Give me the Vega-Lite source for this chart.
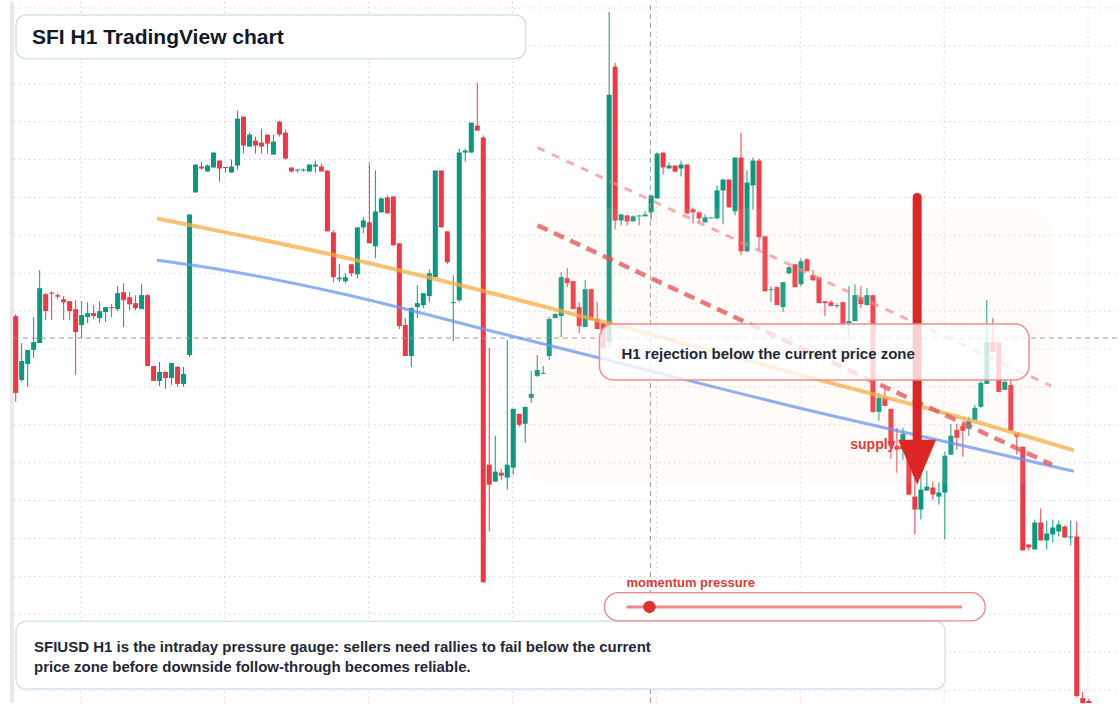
{
  "$schema": "https://vega.github.io/schema/vega-lite/v6.json",
  "width": 1120,
  "height": 704,
  "autosize": {"type": "fit", "contains": "padding"},
  "padding": 0,
  "background": "#ffffff",
  "config": {"view": {"stroke": null}, "scale": {"continuousPadding": 0}, "text": {"font": "Liberation Sans"}},
  "datasets": {
    "candles": [
      {"i":0,"o":388,"h":390,"l":302,"c":311},{"i":1,"o":324,"h":361,"l":322,"c":343},{"i":2,"o":340,"h":354,"l":317,"c":354},{"i":3,"o":354,"h":387,"l":346,"c":362},{"i":4,"o":361,"h":434,"l":361,"c":416},
      {"i":5,"o":410,"h":411,"l":384,"c":393},{"i":6,"o":411.5,"h":413,"l":384,"c":410.5},{"i":7,"o":409,"h":411,"l":405,"c":407.5},{"i":8,"o":405,"h":408,"l":384,"c":402},{"i":9,"o":403,"h":403,"l":384,"c":393},
      {"i":10,"o":395,"h":404,"l":329,"c":372},{"i":11,"o":379,"h":403,"l":366,"c":389},{"i":12,"o":387,"h":402,"l":381,"c":391},{"i":13,"o":391,"h":399,"l":385,"c":388},{"i":14,"o":386,"h":403,"l":381,"c":393},
      {"i":15,"o":392,"h":397,"l":382,"c":397},{"i":16,"o":397,"h":400,"l":387,"c":396},{"i":17,"o":395,"h":418,"l":393,"c":411},{"i":18,"o":412,"h":421,"l":377,"c":404},{"i":19,"o":407,"h":412,"l":394,"c":400},
      {"i":20,"o":401,"h":409,"l":394,"c":396},{"i":21,"o":395,"h":420,"l":395,"c":409},{"i":22,"o":409,"h":410,"l":338,"c":338},{"i":23,"o":338,"h":338,"l":323,"c":323},{"i":24,"o":323,"h":342,"l":318,"c":332},
      {"i":25,"o":332,"h":333,"l":315,"c":326},{"i":26,"o":326,"h":341,"l":319,"c":341},{"i":27,"o":337,"h":338,"l":317,"c":320},{"i":28,"o":320,"h":337,"l":317,"c":330},{"i":29,"o":349,"h":490,"l":347,"c":490},
      {"i":30,"o":512,"h":540,"l":512,"c":540},{"i":31,"o":538,"h":543,"l":535,"c":536},{"i":32,"o":533,"h":540,"l":533,"c":539},{"i":33,"o":537,"h":552,"l":537,"c":552},{"i":34,"o":544,"h":544,"l":523,"c":536},
      {"i":35,"o":537.5,"h":537.5,"l":532,"c":536.5},{"i":36,"o":532,"h":545,"l":532,"c":538},{"i":37,"o":539,"h":594,"l":535,"c":586},{"i":38,"o":588,"h":588,"l":551,"c":559},{"i":39,"o":558,"h":572,"l":558,"c":570},
      {"i":40,"o":564,"h":568,"l":551,"c":559},{"i":41,"o":562,"h":576,"l":551,"c":558},{"i":42,"o":570,"h":570,"l":551,"c":561},{"i":43,"o":550,"h":570,"l":550,"c":563},{"i":44,"o":583,"h":584,"l":568,"c":570},
      {"i":45,"o":572,"h":575,"l":545,"c":546},{"i":46,"o":537,"h":537,"l":532,"c":533},{"i":47,"o":534,"h":535,"l":532,"c":535},{"i":48,"o":534,"h":536,"l":533,"c":535},{"i":49,"o":533,"h":540,"l":533,"c":540},
      {"i":50,"o":538,"h":544,"l":532,"c":540},{"i":51,"o":538,"h":541,"l":533,"c":533},{"i":52,"o":534,"h":534,"l":473,"c":473},{"i":53,"o":472,"h":474,"l":422,"c":427},{"i":54,"o":425,"h":440,"l":422,"c":426.5},
      {"i":55,"o":423,"h":431,"l":421,"c":427},{"i":56,"o":440,"h":440,"l":428,"c":431},{"i":57,"o":430,"h":477,"l":426,"c":477},{"i":58,"o":477,"h":487,"l":471,"c":484},{"i":59,"o":482,"h":542,"l":461,"c":461},
      {"i":60,"o":458,"h":534,"l":446,"c":493},{"i":61,"o":492,"h":507,"l":492,"c":506},{"i":62,"o":507,"h":509,"l":491,"c":491},{"i":63,"o":508,"h":508,"l":459,"c":459},{"i":64,"o":461,"h":461,"l":375,"c":378},
      {"i":65,"o":379,"h":386,"l":348,"c":348},{"i":66,"o":348,"h":397,"l":337,"c":396},{"i":67,"o":397,"h":419,"l":386,"c":401},{"i":68,"o":399,"h":411,"l":396,"c":411},{"i":69,"o":408,"h":435,"l":402,"c":431},
      {"i":70,"o":427,"h":534,"l":427,"c":534},{"i":71,"o":534,"h":534,"l":477,"c":477},{"i":72,"o":473,"h":473,"l":440,"c":442},{"i":73,"o":401,"h":429,"l":363,"c":402},{"i":74,"o":404,"h":556,"l":402,"c":552},
      {"i":75,"o":552,"h":556,"l":543,"c":554},{"i":76,"o":552,"h":582,"l":552,"c":582},{"i":77,"o":579,"h":622,"l":574,"c":574},{"i":78,"o":567,"h":569,"l":121,"c":121},{"i":79,"o":239,"h":356,"l":172,"c":219},
      {"i":80,"o":222,"h":268,"l":222,"c":232},{"i":81,"o":231,"h":235,"l":224,"c":228},{"i":82,"o":226,"h":364,"l":214,"c":239},{"i":83,"o":236,"h":295,"l":229,"c":295},{"i":84,"o":290,"h":290,"l":277,"c":279},
      {"i":85,"o":280,"h":297,"l":261,"c":297},{"i":86,"o":306,"h":333,"l":301,"c":310},{"i":87,"o":328,"h":349,"l":327,"c":334},{"i":88,"o":330,"h":338,"l":330,"c":331},{"i":89,"o":348,"h":387,"l":344,"c":385},
      {"i":90,"o":386,"h":391,"l":386,"c":390},{"i":91,"o":388,"h":432,"l":367,"c":427},{"i":92,"o":426,"h":436,"l":417,"c":421},{"i":93,"o":423,"h":423,"l":395,"c":395},{"i":94,"o":397,"h":402,"l":371,"c":378},
      {"i":95,"o":377,"h":424,"l":377,"c":415},{"i":96,"o":415,"h":415,"l":384,"c":384},{"i":97,"o":385,"h":402,"l":375,"c":375},{"i":98,"o":381,"h":381,"l":356,"c":356},{"i":99,"o":362,"h":693,"l":357,"c":610},
      {"i":100,"o":638,"h":642,"l":475,"c":484},{"i":101,"o":484,"h":490,"l":479,"c":490},{"i":102,"o":489,"h":489,"l":479,"c":483},{"i":103,"o":483,"h":489,"l":483,"c":488},{"i":104,"o":488,"h":489,"l":479,"c":489},
      {"i":105,"o":488,"h":493,"l":488,"c":490},{"i":106,"o":492,"h":509,"l":484,"c":509},{"i":107,"o":506,"h":552,"l":506,"c":551},{"i":108,"o":552,"h":552,"l":530,"c":537},{"i":109,"o":536,"h":542,"l":536,"c":539},
      {"i":110,"o":539,"h":539,"l":532,"c":533},{"i":111,"o":536,"h":544,"l":528,"c":540},{"i":112,"o":540,"h":540,"l":490,"c":491},{"i":113,"o":495,"h":497,"l":481,"c":492},{"i":114,"o":492,"h":493,"l":481,"c":486},
      {"i":115,"o":482,"h":490,"l":482,"c":487},{"i":116,"o":486,"h":487,"l":486,"c":487},{"i":117,"o":486,"h":519,"l":485,"c":514},{"i":118,"o":514,"h":525,"l":480,"c":525},{"i":119,"o":525,"h":525,"l":497,"c":497},
      {"i":120,"o":493,"h":547,"l":489,"c":547},{"i":121,"o":547,"h":572,"l":449,"c":453},{"i":122,"o":453,"h":534,"l":452,"c":522},{"i":123,"o":519,"h":547,"l":495,"c":544},{"i":124,"o":544,"h":546,"l":453,"c":467},
      {"i":125,"o":468,"h":468,"l":412,"c":413},{"i":126,"o":414,"h":418,"l":402,"c":415},{"i":127,"o":417,"h":418,"l":399,"c":399},{"i":128,"o":397,"h":422,"l":392,"c":422},{"i":129,"o":431,"h":438,"l":430,"c":437},
      {"i":130,"o":440,"h":440,"l":417,"c":417},{"i":131,"o":420,"h":446,"l":418,"c":443},{"i":132,"o":445,"h":446,"l":433,"c":433},{"i":133,"o":429,"h":434,"l":423,"c":424},{"i":134,"o":427,"h":427,"l":401,"c":401},
      {"i":135,"o":403,"h":403,"l":388,"c":401},{"i":136,"o":402,"h":404,"l":398,"c":398},{"i":137,"o":398,"h":401,"l":396,"c":399},{"i":138,"o":402,"h":402,"l":379,"c":379},{"i":139,"o":381,"h":418,"l":364,"c":383},
      {"i":140,"o":383,"h":420,"l":383,"c":409},{"i":141,"o":407,"h":418,"l":396,"c":400},{"i":142,"o":399,"h":416,"l":399,"c":409},{"i":143,"o":409,"h":409,"l":291,"c":292},{"i":144,"o":292,"h":311,"l":283,"c":306},
      {"i":145,"o":306,"h":315,"l":298,"c":298},{"i":146,"o":295,"h":295,"l":245,"c":258},{"i":147,"o":258,"h":276,"l":231,"c":254},{"i":148,"o":263,"h":276,"l":244,"c":270},{"i":149,"o":259,"h":263,"l":209,"c":209},
      {"i":150,"o":207,"h":234,"l":169,"c":194},{"i":151,"o":194,"h":233,"l":184,"c":214},{"i":152,"o":213,"h":233,"l":213,"c":217},{"i":153,"o":216,"h":222,"l":204,"c":209},{"i":154,"o":207,"h":221,"l":199,"c":211},
      {"i":155,"o":211,"h":252,"l":164,"c":248},{"i":156,"o":249,"h":280,"l":249,"c":268},{"i":157,"o":274,"h":280,"l":254,"c":266},{"i":158,"o":278,"h":280,"l":247,"c":273},{"i":159,"o":275,"h":287,"l":268,"c":283},
      {"i":160,"o":284,"h":299,"l":284,"c":296},{"i":161,"o":297,"h":323,"l":296,"c":321},{"i":162,"o":320,"h":404,"l":320,"c":362},{"i":163,"o":362,"h":386,"l":352,"c":352},{"i":164,"o":362,"h":362,"l":312,"c":312},
      {"i":165,"o":314,"h":324,"l":314,"c":322},{"i":166,"o":319,"h":326,"l":273,"c":273},{"i":167,"o":271,"h":271,"l":249,"c":267},{"i":168,"o":257,"h":257,"l":153,"c":153},{"i":169,"o":159,"h":159,"l":153,"c":156},
      {"i":170,"o":154,"h":184,"l":154,"c":181},{"i":171,"o":181,"h":195,"l":163,"c":163},{"i":172,"o":163,"h":183,"l":154,"c":170},{"i":173,"o":169,"h":184,"l":161,"c":176},{"i":174,"o":172,"h":183,"l":167,"c":179},
      {"i":175,"o":177,"h":178,"l":166,"c":166},{"i":176,"o":166,"h":183,"l":158,"c":167},{"i":177,"o":167,"h":182,"l":6,"c":7},{"i":178,"o":5,"h":11,"l":-4,"c":-2},{"i":179,"o":2,"h":4,"l":-16,"c":-16}
    ]
  },
  "layer": [
    {
      "data": {"values": [{"y":697},{"y":659},{"y":621},{"y":583},{"y":545},{"y":507},{"y":469},{"y":431},{"y":393},{"y":355},{"y":317},{"y":279},{"y":241},{"y":203},{"y":165},{"y":127},{"y":89},{"y":51},{"y":13}]},
      "mark": {"type": "rule", "color": "#cdd3dc", "strokeWidth": 1, "strokeDash": [1.5, 3.5]},
      "encoding": {
        "x": {"datum": -0.28, "type": "quantitative", "scale": {"domain": [-2.617, 184.05], "nice": false, "zero": false, "padding": 0}, "axis": null},
        "x2": {"datum": 184.05},
        "y": {"field": "y", "type": "quantitative", "scale": {"domain": [0, 704], "nice": false, "zero": false, "padding": 0}, "axis": null}
      }
    },
    {
      "data": {"values": [{"x":10.88},{"x":34.88},{"x":58.88},{"x":82.88},{"x":106.88},{"x":130.88},{"x":154.88},{"x":178.88}]},
      "mark": {"type": "rule", "color": "#cdd3dc", "strokeWidth": 1, "strokeDash": [1.5, 3.5]},
      "encoding": {
        "x": {"field": "x", "type": "quantitative", "scale": {"domain": [-2.617, 184.05], "nice": false, "zero": false, "padding": 0}, "axis": null},
        "y": {"datum": 0, "type": "quantitative", "scale": {"domain": [0, 704], "nice": false, "zero": false, "padding": 0}, "axis": null},
        "y2": {"datum": 704}
      }
    },
    {
      "data": {"values": [{"x": -0.95, "x2": -0.28, "y": 0, "y2": 704}]},
      "mark": {"type": "rect", "color": "#e9e9e9"},
      "encoding": {
        "x": {"field": "x", "type": "quantitative", "scale": {"domain": [-2.617, 184.05], "nice": false, "zero": false, "padding": 0}, "axis": null},
        "x2": {"field": "x2"},
        "y": {"field": "y", "type": "quantitative", "scale": {"domain": [0, 704], "nice": false, "zero": false, "padding": 0}, "axis": null},
        "y2": {"field": "y2"}
      }
    },
    {
      "data": {"name": "candles"},
      "mark": {"type": "rule", "strokeWidth": 1, "clip": true},
      "encoding": {
        "x": {"field": "i", "type": "quantitative", "scale": {"domain": [-2.617, 184.05], "nice": false, "zero": false, "padding": 0}, "axis": null},
        "y": {"field": "l", "type": "quantitative", "scale": {"domain": [0, 704], "nice": false, "zero": false, "padding": 0}, "axis": null},
        "y2": {"field": "h"},
        "color": {"condition": {"test": "datum.c >= datum.o", "value": "#089981"}, "value": "#f23645"}
      }
    },
    {
      "data": {"name": "candles"},
      "mark": {"type": "bar", "size": 5, "clip": true},
      "encoding": {
        "x": {"field": "i", "type": "quantitative", "scale": {"domain": [-2.617, 184.05], "nice": false, "zero": false, "padding": 0}, "axis": null},
        "y": {"field": "o", "type": "quantitative", "scale": {"domain": [0, 704], "nice": false, "zero": false, "padding": 0}, "axis": null},
        "y2": {"field": "c"},
        "color": {"condition": {"test": "datum.c >= datum.o", "value": "#089981"}, "value": "#f23645"}
      }
    },
    {
      "data": {"values": [{"x": 105.88, "y": 0, "y2": 704}]},
      "mark": {"type": "rule", "color": "#9a9a9a", "strokeWidth": 1, "strokeDash": [5, 4]},
      "encoding": {
        "x": {"field": "x", "type": "quantitative", "scale": {"domain": [-2.617, 184.05], "nice": false, "zero": false, "padding": 0}, "axis": null},
        "y": {"field": "y", "type": "quantitative", "scale": {"domain": [0, 704], "nice": false, "zero": false, "padding": 0}, "axis": null},
        "y2": {"field": "y2"}
      }
    },
    {
      "data": {"values": [{"x": -0.28, "x2": 184.05, "y": 366}]},
      "mark": {"type": "rule", "color": "#9a9a9a", "strokeWidth": 1, "strokeDash": [5, 4]},
      "encoding": {
        "x": {"field": "x", "type": "quantitative", "scale": {"domain": [-2.617, 184.05], "nice": false, "zero": false, "padding": 0}, "axis": null},
        "x2": {"field": "x2"},
        "y": {"field": "y", "type": "quantitative", "scale": {"domain": [0, 704], "nice": false, "zero": false, "padding": 0}, "axis": null}
      }
    },
    {
      "data": {"values": [{"x": 85.22, "x2": 172.88, "y": 496, "y2": 220}]},
      "mark": {"type": "rect", "color": "#f3dcc4", "opacity": 0.1, "cornerRadius": 22},
      "encoding": {
        "x": {"field": "x", "type": "quantitative", "scale": {"domain": [-2.617, 184.05], "nice": false, "zero": false, "padding": 0}, "axis": null},
        "x2": {"field": "x2"},
        "y": {"field": "y", "type": "quantitative", "scale": {"domain": [0, 704], "nice": false, "zero": false, "padding": 0}, "axis": null},
        "y2": {"field": "y2"}
      }
    },
    {
      "data": {"values": [{"x":23.55,"y":486},{"x":27.38,"y":481.3},{"x":50.72,"y":452.3},{"x":75.72,"y":416.7},{"x":99.05,"y":380.7},{"x":134.05,"y":324},{"x":157.38,"y":286.7},{"x":176.55,"y":253.3}]},
      "mark": {"type": "line", "color": "#f7ac45", "strokeWidth": 4, "opacity": 0.75, "interpolate": "monotone"},
      "encoding": {
        "x": {"field": "x", "type": "quantitative", "scale": {"domain": [-2.617, 184.05], "nice": false, "zero": false, "padding": 0}, "axis": null},
        "y": {"field": "y", "type": "quantitative", "scale": {"domain": [0, 704], "nice": false, "zero": false, "padding": 0}, "axis": null}
      }
    },
    {
      "data": {"values": [{"x":23.55,"y":444},{"x":30.72,"y":438},{"x":54.05,"y":411},{"x":80.72,"y":371},{"x":97.38,"y":346},{"x":134.05,"y":291},{"x":157.38,"y":259},{"x":176.55,"y":232.3}]},
      "mark": {"type": "line", "color": "#6a96f2", "strokeWidth": 3, "opacity": 0.75, "interpolate": "monotone"},
      "encoding": {
        "x": {"field": "x", "type": "quantitative", "scale": {"domain": [-2.617, 184.05], "nice": false, "zero": false, "padding": 0}, "axis": null},
        "y": {"field": "y", "type": "quantitative", "scale": {"domain": [0, 704], "nice": false, "zero": false, "padding": 0}, "axis": null}
      }
    },
    {
      "data": {"values": [{"x":87.05,"y":557},{"x":172.72,"y":318}]},
      "mark": {"type": "line", "color": "#f08e8e", "strokeWidth": 3, "opacity": 0.7, "strokeDash": [8, 8]},
      "encoding": {
        "x": {"field": "x", "type": "quantitative", "scale": {"domain": [-2.617, 184.05], "nice": false, "zero": false, "padding": 0}, "axis": null},
        "y": {"field": "y", "type": "quantitative", "scale": {"domain": [0, 704], "nice": false, "zero": false, "padding": 0}, "axis": null}
      }
    },
    {
      "data": {"values": [{"x":87.05,"y":479},{"x":172.88,"y":239}]},
      "mark": {"type": "line", "color": "#e35a5e", "strokeWidth": 4.5, "opacity": 0.8, "strokeDash": [11, 7]},
      "encoding": {
        "x": {"field": "x", "type": "quantitative", "scale": {"domain": [-2.617, 184.05], "nice": false, "zero": false, "padding": 0}, "axis": null},
        "y": {"field": "y", "type": "quantitative", "scale": {"domain": [0, 704], "nice": false, "zero": false, "padding": 0}, "axis": null}
      }
    },
    {
      "data": {"values": [{"x": 139.22, "y": 255, "t": "supply zone"}]},
      "mark": {"type": "text", "align": "left", "baseline": "alphabetic", "fontSize": 14, "fontWeight": "bold", "color": "#e53935", "font": "Liberation Sans"},
      "encoding": {
        "x": {"field": "x", "type": "quantitative", "scale": {"domain": [-2.617, 184.05], "nice": false, "zero": false, "padding": 0}, "axis": null},
        "y": {"field": "y", "type": "quantitative", "scale": {"domain": [0, 704], "nice": false, "zero": false, "padding": 0}, "axis": null},
        "text": {"field": "t"}
      }
    },
    {
      "data": {"values": [{"x": 150.38, "y": 507, "y2": 259}]},
      "mark": {"type": "rule", "color": "#dc2626", "strokeWidth": 9, "strokeCap": "round"},
      "encoding": {
        "x": {"field": "x", "type": "quantitative", "scale": {"domain": [-2.617, 184.05], "nice": false, "zero": false, "padding": 0}, "axis": null},
        "y": {"field": "y", "type": "quantitative", "scale": {"domain": [0, 704], "nice": false, "zero": false, "padding": 0}, "axis": null},
        "y2": {"field": "y2"}
      }
    },
    {
      "data": {"values": [{"x": 150.38, "y": 241.5}]},
      "mark": {"type": "point", "shape": "M -0.84 -1 L 0.84 -1 L 0 1 Z", "size": 2025, "filled": true, "color": "#dc2626", "opacity": 1},
      "encoding": {
        "x": {"field": "x", "type": "quantitative", "scale": {"domain": [-2.617, 184.05], "nice": false, "zero": false, "padding": 0}, "axis": null},
        "y": {"field": "y", "type": "quantitative", "scale": {"domain": [0, 704], "nice": false, "zero": false, "padding": 0}, "axis": null}
      }
    },
    {
      "data": {"values": [{"x": 97.38, "x2": 169.05, "y": 380, "y2": 324}]},
      "mark": {"type": "rect", "fill": "#ffffff", "fillOpacity": 0.78, "stroke": "#ef8f8f", "strokeWidth": 1.5, "cornerRadius": 14},
      "encoding": {
        "x": {"field": "x", "type": "quantitative", "scale": {"domain": [-2.617, 184.05], "nice": false, "zero": false, "padding": 0}, "axis": null},
        "x2": {"field": "x2"},
        "y": {"field": "y", "type": "quantitative", "scale": {"domain": [0, 704], "nice": false, "zero": false, "padding": 0}, "axis": null},
        "y2": {"field": "y2"}
      }
    },
    {
      "data": {"values": [{"x": 101.05, "y": 345, "t": "H1 rejection below the current price zone"}]},
      "mark": {"type": "text", "align": "left", "baseline": "alphabetic", "fontSize": 15, "fontWeight": "bold", "color": "#1f2937", "font": "Liberation Sans"},
      "encoding": {
        "x": {"field": "x", "type": "quantitative", "scale": {"domain": [-2.617, 184.05], "nice": false, "zero": false, "padding": 0}, "axis": null},
        "y": {"field": "y", "type": "quantitative", "scale": {"domain": [0, 704], "nice": false, "zero": false, "padding": 0}, "axis": null},
        "text": {"field": "t"}
      }
    },
    {
      "data": {"values": [{"x": 0.05, "x2": 85.05, "y": 690, "y2": 646}, {"x": 0.05, "x2": 155.05, "y": 82, "y2": 14}]},
      "mark": {"type": "rect", "fill": "#ffffff", "stroke": "#d3e2f5", "strokeWidth": 1.5, "cornerRadius": 10},
      "encoding": {
        "x": {"field": "x", "type": "quantitative", "scale": {"domain": [-2.617, 184.05], "nice": false, "zero": false, "padding": 0}, "axis": null},
        "x2": {"field": "x2"},
        "y": {"field": "y", "type": "quantitative", "scale": {"domain": [0, 704], "nice": false, "zero": false, "padding": 0}, "axis": null},
        "y2": {"field": "y2"}
      }
    },
    {
      "data": {"values": [{"x": 2.717, "y": 660.7, "t": "SFI H1 TradingView chart"}]},
      "mark": {"type": "text", "align": "left", "baseline": "alphabetic", "fontSize": 21, "fontWeight": "bold", "color": "#111827", "font": "Liberation Sans"},
      "encoding": {
        "x": {"field": "x", "type": "quantitative", "scale": {"domain": [-2.617, 184.05], "nice": false, "zero": false, "padding": 0}, "axis": null},
        "y": {"field": "y", "type": "quantitative", "scale": {"domain": [0, 704], "nice": false, "zero": false, "padding": 0}, "axis": null},
        "text": {"field": "t"}
      }
    },
    {
      "data": {"values": [{"x": 3.05, "y": 50.7, "t": "SFIUSD H1 is the intraday pressure gauge: sellers need rallies to fail below the current"}, {"x": 3.05, "y": 30.7, "t": "price zone before downside follow-through becomes reliable."}]},
      "mark": {"type": "text", "align": "left", "baseline": "alphabetic", "fontSize": 15, "fontWeight": "bold", "color": "#1f2937", "font": "Liberation Sans"},
      "encoding": {
        "x": {"field": "x", "type": "quantitative", "scale": {"domain": [-2.617, 184.05], "nice": false, "zero": false, "padding": 0}, "axis": null},
        "y": {"field": "y", "type": "quantitative", "scale": {"domain": [0, 704], "nice": false, "zero": false, "padding": 0}, "axis": null},
        "text": {"field": "t"}
      }
    },
    {
      "data": {"values": [{"x": 98.22, "x2": 161.72, "y": 110.7, "y2": 82.3}]},
      "mark": {"type": "rect", "fill": "#ffffff", "stroke": "#ee8585", "strokeWidth": 1.3, "cornerRadius": 14},
      "encoding": {
        "x": {"field": "x", "type": "quantitative", "scale": {"domain": [-2.617, 184.05], "nice": false, "zero": false, "padding": 0}, "axis": null},
        "x2": {"field": "x2"},
        "y": {"field": "y", "type": "quantitative", "scale": {"domain": [0, 704], "nice": false, "zero": false, "padding": 0}, "axis": null},
        "y2": {"field": "y2"}
      }
    },
    {
      "data": {"values": [{"x": 101.88, "x2": 157.88, "y": 96.3}]},
      "mark": {"type": "rule", "color": "#ef8a8a", "strokeWidth": 3},
      "encoding": {
        "x": {"field": "x", "type": "quantitative", "scale": {"domain": [-2.617, 184.05], "nice": false, "zero": false, "padding": 0}, "axis": null},
        "x2": {"field": "x2"},
        "y": {"field": "y", "type": "quantitative", "scale": {"domain": [0, 704], "nice": false, "zero": false, "padding": 0}, "axis": null}
      }
    },
    {
      "data": {"values": [{"x": 105.72, "y": 96.3}]},
      "mark": {"type": "point", "shape": "circle", "size": 154, "filled": true, "color": "#e03131", "opacity": 1},
      "encoding": {
        "x": {"field": "x", "type": "quantitative", "scale": {"domain": [-2.617, 184.05], "nice": false, "zero": false, "padding": 0}, "axis": null},
        "y": {"field": "y", "type": "quantitative", "scale": {"domain": [0, 704], "nice": false, "zero": false, "padding": 0}, "axis": null}
      }
    },
    {
      "data": {"values": [{"x": 101.88, "y": 116.3, "t": "momentum pressure"}]},
      "mark": {"type": "text", "align": "left", "baseline": "alphabetic", "fontSize": 13, "fontWeight": "bold", "color": "#e53935", "font": "Liberation Sans"},
      "encoding": {
        "x": {"field": "x", "type": "quantitative", "scale": {"domain": [-2.617, 184.05], "nice": false, "zero": false, "padding": 0}, "axis": null},
        "y": {"field": "y", "type": "quantitative", "scale": {"domain": [0, 704], "nice": false, "zero": false, "padding": 0}, "axis": null},
        "text": {"field": "t"}
      }
    }
  ]
}
